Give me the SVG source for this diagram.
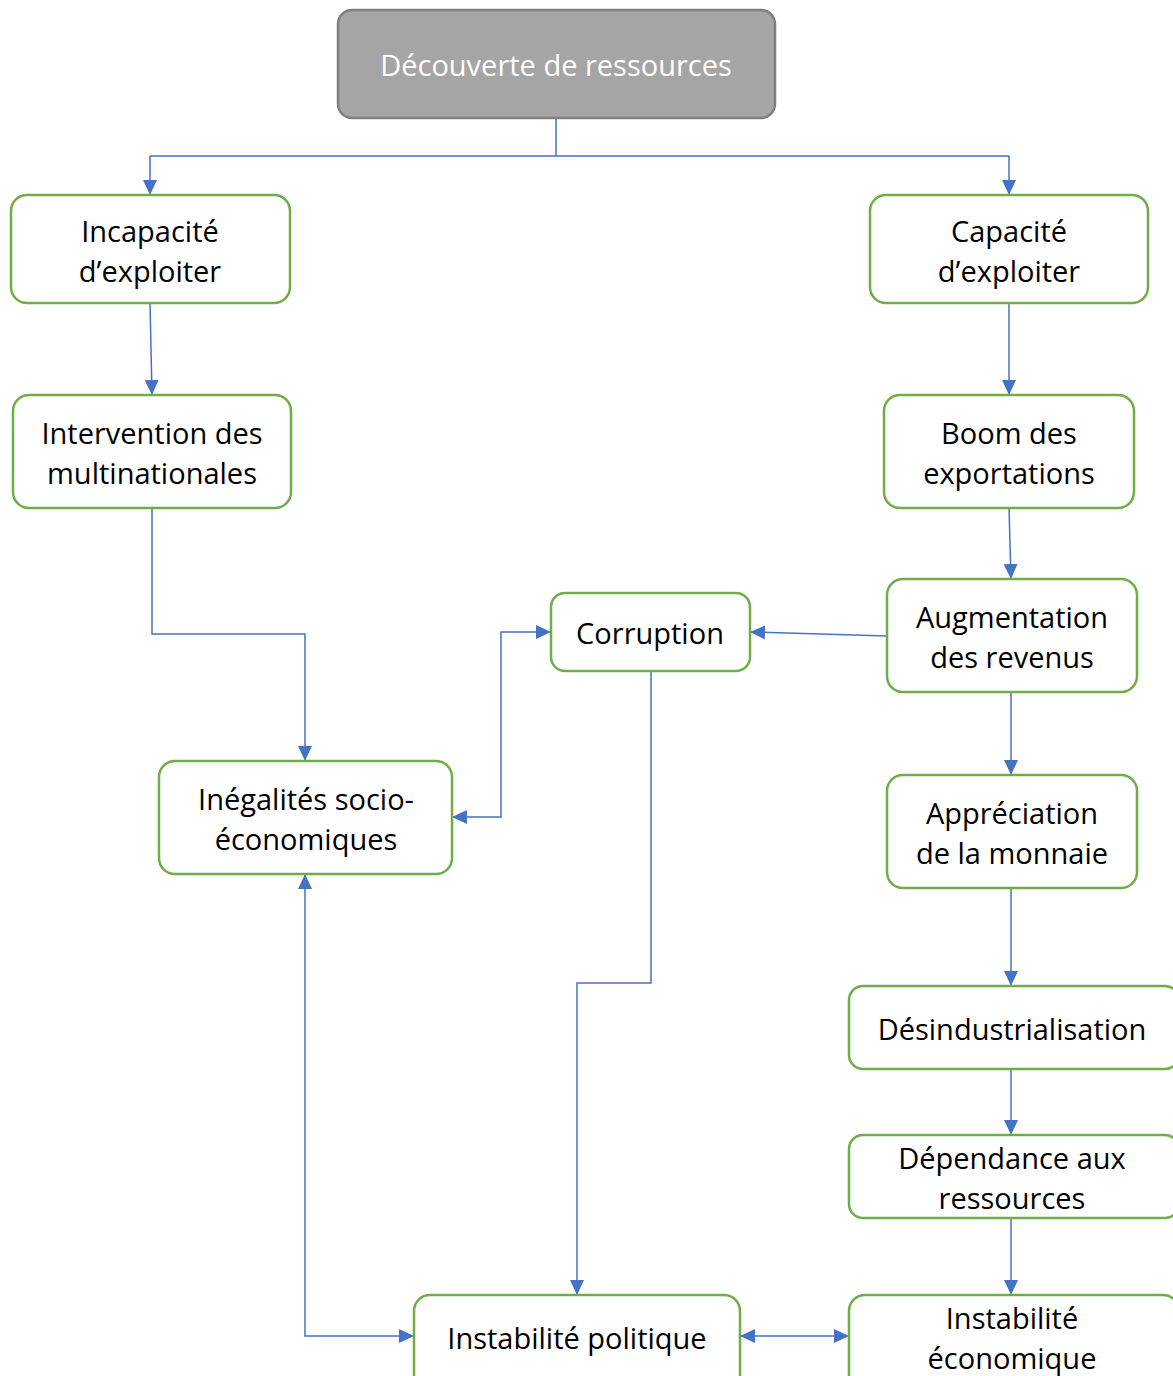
<svg xmlns="http://www.w3.org/2000/svg" width="1173" height="1376" viewBox="0 0 1173 1376">
<defs>
<style>
.n{fill:#fff;stroke:#70ad47;stroke-width:2.5}
.top{fill:#a5a5a5;stroke:#7f7f7f;stroke-width:2.5}
.t{font-family:"Open Sans","Liberation Sans",sans-serif;font-size:29px;fill:#000;text-anchor:middle;dominant-baseline:central}
.tw{fill:#fff}
.c{fill:none;stroke:#4472c4;stroke-width:1.5}
</style>
<marker id="a" markerUnits="userSpaceOnUse" markerWidth="16" markerHeight="16" viewBox="0 0 16 16" refX="15" refY="8" orient="auto-start-reverse">
<path d="M0,1 L15,8 L0,15 z" fill="#4472c4"/>
</marker>
</defs>
<rect width="1173" height="1376" fill="#fff"/>
<g id="connectors">
<path class="c" d="M556,118 V156 M150,156 H1009" />
<path class="c" d="M150,156 V195" marker-end="url(#a)"/>
<path class="c" d="M1009,156 V195" marker-end="url(#a)"/>
<path class="c" d="M150,303 L152,395" marker-end="url(#a)"/>
<path class="c" d="M1009,303 V395" marker-end="url(#a)"/>
<path class="c" d="M1009,508 L1011,579" marker-end="url(#a)"/>
<path class="c" d="M887,636 L750,632" marker-end="url(#a)"/>
<path class="c" d="M152,508 V634 H305 V761" marker-end="url(#a)"/>
<path class="c" d="M452,817 H501 V632 H551" marker-start="url(#a)" marker-end="url(#a)"/>
<path class="c" d="M651,671 V983 H577 V1295" marker-end="url(#a)"/>
<path class="c" d="M1011,692 V775" marker-end="url(#a)"/>
<path class="c" d="M1011,888 V986" marker-end="url(#a)"/>
<path class="c" d="M1011,1069 V1135" marker-end="url(#a)"/>
<path class="c" d="M1011,1218 V1295" marker-end="url(#a)"/>
<path class="c" d="M305,874 V1336 H414" marker-start="url(#a)" marker-end="url(#a)"/>
<path class="c" d="M740,1336 H849" marker-start="url(#a)" marker-end="url(#a)"/>
</g>
<g id="n-decouverte"><rect class="top" x="338" y="10" width="437" height="108" rx="14"/><text class="t tw" x="556" y="64">Découverte de ressources</text></g>
<g id="n-incapacite"><rect class="n" x="11" y="195" width="279" height="108" rx="16"/><text class="t" x="150" y="230">Incapacité</text><text class="t" x="150" y="270">d’exploiter</text></g>
<g id="n-capacite"><rect class="n" x="870" y="195" width="278" height="108" rx="16"/><text class="t" x="1009" y="230">Capacité</text><text class="t" x="1009" y="270">d’exploiter</text></g>
<g id="n-intervention"><rect class="n" x="13" y="395" width="278" height="113" rx="16"/><text class="t" x="152" y="432">Intervention des</text><text class="t" x="152" y="472">multinationales</text></g>
<g id="n-boom"><rect class="n" x="884" y="395" width="250" height="113" rx="16"/><text class="t" x="1009" y="432">Boom des</text><text class="t" x="1009" y="472">exportations</text></g>
<g id="n-augmentation"><rect class="n" x="887" y="579" width="250" height="113" rx="16"/><text class="t" x="1012" y="616">Augmentation</text><text class="t" x="1012" y="656">des revenus</text></g>
<g id="n-corruption"><rect class="n" x="551" y="593" width="199" height="78" rx="14"/><text class="t" x="650" y="632">Corruption</text></g>
<g id="n-inegalites"><rect class="n" x="159" y="761" width="293" height="113" rx="16"/><text class="t" x="306" y="798">Inégalités socio-</text><text class="t" x="306" y="838">économiques</text></g>
<g id="n-appreciation"><rect class="n" x="887" y="775" width="250" height="113" rx="16"/><text class="t" x="1012" y="812">Appréciation</text><text class="t" x="1012" y="852">de la monnaie</text></g>
<g id="n-desindustrialisation"><rect class="n" x="849" y="986" width="330" height="83" rx="14"/><text class="t" x="1012" y="1028">Désindustrialisation</text></g>
<g id="n-dependance"><rect class="n" x="849" y="1135" width="330" height="83" rx="14"/><text class="t" x="1012" y="1157">Dépendance aux</text><text class="t" x="1012" y="1197">ressources</text></g>
<g id="n-instab-politique"><rect class="n" x="414" y="1295" width="326" height="100" rx="16"/><text class="t" x="577" y="1337">Instabilité politique</text></g>
<g id="n-instab-economique"><rect class="n" x="849" y="1295" width="330" height="100" rx="16"/><text class="t" x="1012" y="1317">Instabilité</text><text class="t" x="1012" y="1357">économique</text></g>
</svg>
